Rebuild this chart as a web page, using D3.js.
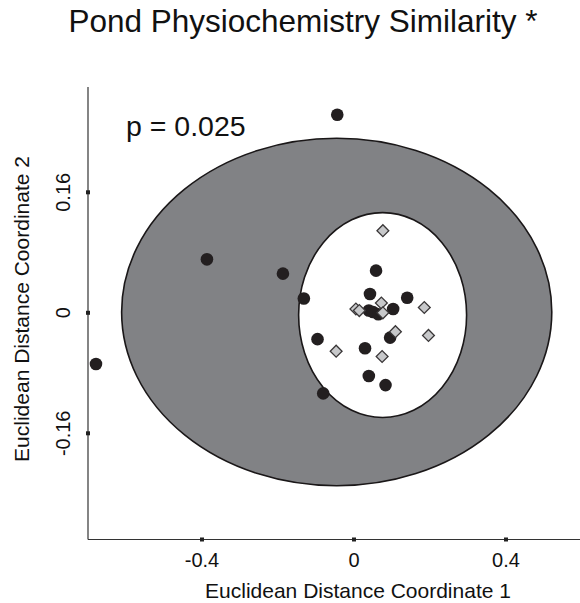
<!DOCTYPE html>
<html>
<head>
<meta charset="utf-8">
<script src="https://cdn.jsdelivr.net/npm/d3@7"></script>
<style>
  html, body { margin: 0; padding: 0; background: #fff; }
  svg { display: block; font-family: "Liberation Sans", Arial, sans-serif; }
</style>
</head>
<body>
<div id="chart"></div>
<script>
// Ordination coordinates
const groupA = [ // black circles
    [-0.044, 0.263], [-0.387, 0.071], [-0.187, 0.052], [-0.132, 0.019],
    [-0.096, -0.035], [-0.679, -0.068], [-0.081, -0.107], [0.058, 0.056],
    [0.042, 0.025], [0.140, 0.020], [0.039, 0.003], [0.050, 0.001],
    [0.064, -0.002], [0.103, 0.005], [0.095, -0.033], [0.029, -0.047],
    [0.039, -0.084], [0.083, -0.096]
];
const groupB = [ // grey diamonds
    [0.076, 0.109], [0.005, 0.005], [0.014, 0.003], [0.072, 0.013],
    [0.076, 0.000], [0.185, 0.007], [0.109, -0.025], [0.196, -0.030],
    [-0.047, -0.051], [0.074, -0.058]
];
// confidence ellipses: [cx, cy, rx, ry]
const ellipseA = [-0.0455, 0.001, 0.566, 0.2307];
const ellipseB = [0.0753, -0.003, 0.221, 0.136];

const xTicks = [-0.4, 0, 0.4];
const yTicks = [-0.16, 0, 0.16];
const xDomain = [-0.7, 0.595];
const yDomain = [-0.301, 0.2997];

const width = 580, height = 603;

const svg = d3.select('#chart')
    .append('svg')
    .attr('width', width)
    .attr('height', height);

const x = d3.scaleLinear().domain([-0.4, 0.4]).range([202, 506]);
const y = d3.scaleLinear().domain([-0.16, 0.16]).range([433.3, 192.3]);

// Title
svg.append('text')
    .attr('x', 303)
    .attr('y', 32)
    .attr('text-anchor', 'middle')
    .attr('font-size', '31.5px')
    .attr('fill', '#111')
    .text('Pond Physiochemistry Similarity *');

// Ellipses
function drawEllipse(e, fill) {
    svg.append('ellipse')
        .attr('cx', x(e[0]))
        .attr('cy', y(e[1]))
        .attr('rx', x(e[0] + e[2]) - x(e[0]))
        .attr('ry', y(e[1]) - y(e[1] + e[3]))
        .attr('fill', fill)
        .attr('stroke', '#1a1718')
        .attr('stroke-width', 1.6);
}
drawEllipse(ellipseA, '#818285');
drawEllipse(ellipseB, '#ffffff');

// Axes lines
const axisColor = '#333';
svg.append('line')
    .attr('x1', x(xDomain[0])).attr('x2', x(xDomain[0]))
    .attr('y1', y(yDomain[1])).attr('y2', y(yDomain[0]))
    .attr('stroke', axisColor).attr('stroke-width', 1.2);
svg.append('line')
    .attr('x1', x(xDomain[0])).attr('x2', x(xDomain[1]))
    .attr('y1', y(yDomain[0])).attr('y2', y(yDomain[0]))
    .attr('stroke', axisColor).attr('stroke-width', 1.2);

// Tick marks (small squares on the axis)
svg.append('g').selectAll('rect')
    .data(xTicks)
    .enter().append('rect')
    .attr('x', d => x(d) - 2)
    .attr('y', y(yDomain[0]) - 2)
    .attr('width', 4).attr('height', 4)
    .attr('fill', '#222');
svg.append('g').selectAll('rect')
    .data(yTicks)
    .enter().append('rect')
    .attr('x', x(xDomain[0]) - 2)
    .attr('y', d => y(d) - 2)
    .attr('width', 4).attr('height', 4)
    .attr('fill', '#222');

// Tick labels
svg.append('g').selectAll('text')
    .data(xTicks)
    .enter().append('text')
    .attr('x', d => x(d))
    .attr('y', 567)
    .attr('text-anchor', 'middle')
    .attr('font-size', '20px')
    .attr('fill', '#111')
    .text(d => String(d));
svg.append('g').selectAll('text')
    .data(yTicks)
    .enter().append('text')
    .attr('transform', d => `translate(70,${y(d)}) rotate(-90)`)
    .attr('text-anchor', 'middle')
    .attr('font-size', '20px')
    .attr('fill', '#111')
    .text(d => String(d));

// Axis titles
svg.append('text')
    .attr('x', 358)
    .attr('y', 598)
    .attr('text-anchor', 'middle')
    .attr('font-size', '21px')
    .attr('fill', '#111')
    .text('Euclidean Distance Coordinate 1');
svg.append('text')
    .attr('transform', 'translate(29,309) rotate(-90)')
    .attr('text-anchor', 'middle')
    .attr('font-size', '21px')
    .attr('fill', '#111')
    .text('Euclidean Distance Coordinate 2');

// p value
svg.append('text')
    .attr('x', 126)
    .attr('y', 136)
    .attr('font-size', '28.5px')
    .attr('fill', '#111')
    .text('p = 0.025');

// Points
svg.append('g').selectAll('circle')
    .data(groupA)
    .enter().append('circle')
    .attr('cx', d => x(d[0]))
    .attr('cy', d => y(d[1]))
    .attr('r', 6.3)
    .attr('fill', '#231f20');

const diamond = d3.symbol().type(d3.symbolSquare).size(70);
svg.append('g').selectAll('path')
    .data(groupB)
    .enter().append('path')
    .attr('d', diamond)
    .attr('transform', d => `translate(${x(d[0])},${y(d[1])}) rotate(45)`)
    .attr('fill', '#c7c8ca')
    .attr('stroke', '#3a3738')
    .attr('stroke-width', 1.3);
</script>
</body>
</html>
